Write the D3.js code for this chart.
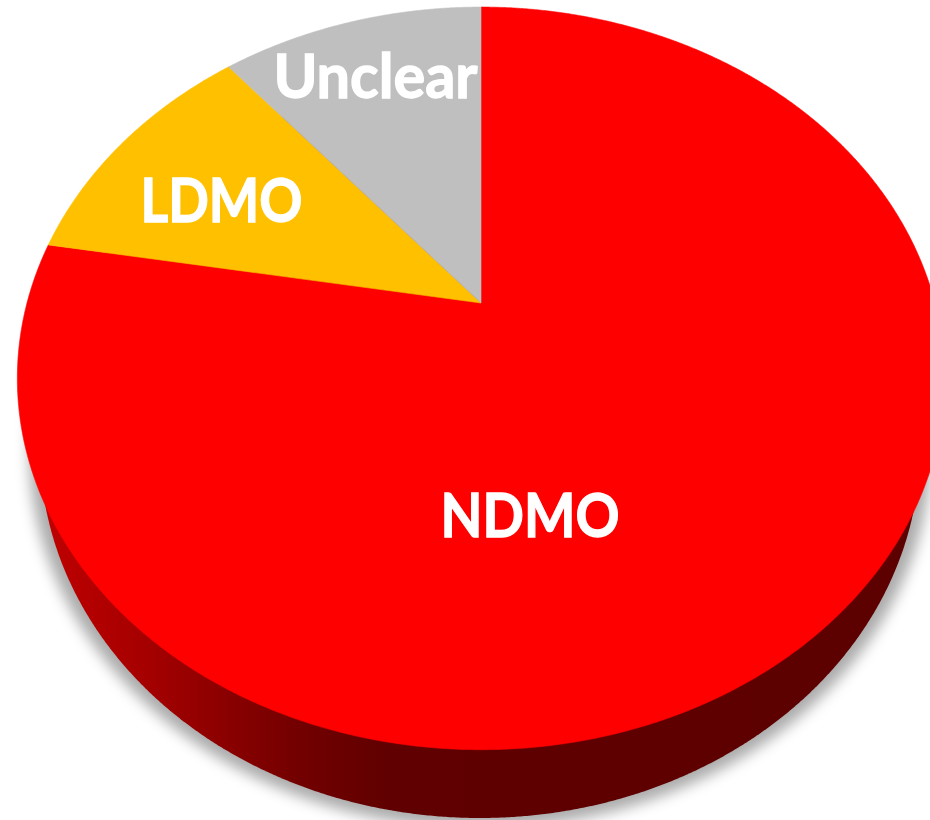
<html>
<head>
    <meta charset="utf-8">
    <title>NDMO / LDMO pie</title>
    <script src="https://d3js.org/d3.v7.min.js"></script>
<style>
    body {
        padding: 0;
        margin: 0;
        background: #fff;
    }
    svg {
        display: block;
    }
    .label {
        font-family: Lato, "Open Sans", sans-serif;
        font-weight: 700;
        fill: #fff;
        stroke: #fff;
        stroke-width: 1.3px;
        text-anchor: middle;
    }
</style>
</head>
<body>
<script>
    // data (start at 12 o'clock, clockwise)
    var categories = ["NDMO", "LDMO", "Unclear"];
    var shares = [77.7, 11.2, 11.1];
    var sliceColors = ["#ff0000", "#ffc000", "#bfbfbf"];

    var w = 930;
    var h = 820;

    // the pie is tilted, so its centre is not the middle of the ellipse
    var apex = {x: 481, y: 303};
    var tilt = 0.203;
    var scaleX = 454;
    var scaleY = 356;

    // disc coordinates -> screen
    function project(angle) {
        var u = Math.sin(angle);
        var v = Math.cos(angle);
        var d = 1 + tilt * v;
        return [apex.x + scaleX * u / d, apex.y - scaleY * v / d];
    }

    // lower rim of the pie
    var rim = {cx: 480, cy: 448, rx: 440, ry: 370};

    // label centres and widths in pixels
    var labelLayout = [
        {x: 530, y: 537, width: 179, size: 62},
        {x: 221.5, y: 222, width: 162, size: 62},
        {x: 375.5, y: 98, width: 204, size: 62}
    ];

    var svg = d3.select("body")
        .append("svg")
        .attr("width", w)
        .attr("height", h);

    var defs = svg.append("defs");

    defs.append("filter")
        .attr("id", "soft")
        .attr("x", "-5%").attr("y", "-5%")
        .attr("width", "110%").attr("height", "110%")
        .append("feGaussianBlur")
        .attr("stdDeviation", 0.7);

    defs.append("filter")
        .attr("id", "shadow")
        .attr("x", "-10%").attr("y", "-10%")
        .attr("width", "120%").attr("height", "120%")
        .append("feGaussianBlur")
        .attr("stdDeviation", 7);

    var wallGradient = defs.append("linearGradient")
        .attr("id", "wall")
        .attr("gradientUnits", "userSpaceOnUse")
        .attr("x1", 0).attr("x2", w)
        .attr("y1", 0).attr("y2", 0);

    wallGradient.selectAll("stop")
        .data([
            [40, "#c00000"],
            [150, "#a40000"],
            [300, "#720000"],
            [390, "#600000"],
            [930, "#5c0000"]
        ])
        .enter().append("stop")
        .attr("offset", function(d) { return d[0] / w; })
        .attr("stop-color", function(d) { return d[1]; });

    var line = d3.line();

    //soft shadow under the rim
    svg.append("ellipse")
        .attr("cx", rim.cx)
        .attr("cy", rim.cy + 2)
        .attr("rx", rim.rx + 11)
        .attr("ry", rim.ry + 8)
        .attr("fill", "#000")
        .attr("fill-opacity", 0.33)
        .attr("filter", "url(#shadow)");

    var g = svg.append("g").attr("filter", "url(#soft)");

    //side wall
    var rimPoints = d3.range(0, 2 * Math.PI, 0.005).map(function(a) {
        return [rim.cx + rim.rx * Math.sin(a), rim.cy - rim.ry * Math.cos(a)];
    });
    g.append("path")
        .attr("d", line(rimPoints) + "Z")
        .attr("fill", "url(#wall)");

    //slices
    var pie = d3.pie().sort(null).value(function(d) { return d; });

    g.selectAll("path.slice")
        .data(pie(shares))
        .enter().append("path")
        .attr("class", "slice")
        .attr("fill", function(d, i) { return sliceColors[i]; })
        .attr("stroke", function(d, i) { return sliceColors[i]; })
        .attr("stroke-width", 0.6)
        .attr("d", function(d) {
            var pts = [[apex.x, apex.y]];
            var n = Math.ceil((d.endAngle - d.startAngle) / 0.005);
            d3.range(n + 1).forEach(function(i) {
                pts.push(project(d.startAngle + (d.endAngle - d.startAngle) * i / n));
            });
            return line(pts) + "Z";
        });

    //labels
    g.selectAll("text.label")
        .data(categories)
        .enter().append("text")
        .attr("class", "label")
        .attr("x", function(d, i) { return labelLayout[i].x; })
        .attr("y", function(d, i) { return labelLayout[i].y; })
        .attr("font-size", function(d, i) { return labelLayout[i].size; })
        .attr("textLength", function(d, i) { return labelLayout[i].width; })
        .attr("lengthAdjust", "spacingAndGlyphs")
        .text(function(d) { return d; });
</script>
</body>
</html>
